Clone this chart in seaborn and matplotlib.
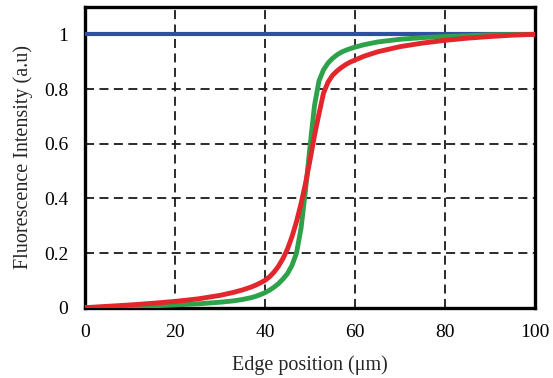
import matplotlib
matplotlib.use("Agg")
import matplotlib.pyplot as plt
import seaborn as sns
import pandas as pd

# Edge profiles: normalised fluorescence intensity across the edge
reference_x = [0, 100]
reference_y = [1.0, 1.0]

green_x = [0, 5, 10, 15, 20, 25, 30, 33, 35, 37, 38, 39, 40, 41, 42, 43, 44,
           45, 46, 47, 48, 49, 50, 51, 52, 53, 54, 55, 56, 57, 58, 59, 60,
           62, 65, 70, 75, 80, 85, 90, 100]
green_y = [0.0, 0.002, 0.004, 0.007, 0.01, 0.014, 0.02, 0.025, 0.03, 0.037,
           0.042, 0.048, 0.055, 0.064, 0.075, 0.088, 0.105, 0.125, 0.155,
           0.20, 0.29, 0.43, 0.59, 0.74, 0.83, 0.87, 0.895, 0.912, 0.925,
           0.935, 0.942, 0.948, 0.953, 0.962, 0.972, 0.982, 0.988, 0.992,
           0.995, 0.998, 1.0]

red_x = [0, 5, 10, 15, 20, 25, 30, 33, 35, 37, 38, 39, 40, 41, 42, 43, 44,
         45, 46, 47, 48, 49, 50, 51, 52, 53, 54, 55, 56, 57, 58, 59, 60, 62,
         65, 70, 75, 80, 85, 90, 95, 100]
red_y = [0.0, 0.005, 0.01, 0.016, 0.023, 0.032, 0.045, 0.056, 0.065, 0.076,
         0.083, 0.091, 0.10, 0.113, 0.13, 0.152, 0.18, 0.215, 0.26, 0.315,
         0.38, 0.455, 0.54, 0.63, 0.71, 0.785, 0.825, 0.85, 0.866, 0.879,
         0.89, 0.899, 0.906, 0.92, 0.936, 0.955, 0.968, 0.978, 0.986, 0.992,
         0.997, 1.0]

x_ticks = [0, 20, 40, 60, 80, 100]
y_ticks = [0, 0.2, 0.4, 0.6, 0.8, 1.0]
y_tick_labels = ["0", "0.2", "0.4", "0.6", "0.8", "1"]

sns.set_style("white")
plt.rcParams["font.family"] = ["Liberation Serif", "DejaVu Serif"]

fig = plt.figure(figsize=(5.53, 3.78), dpi=100)
ax = fig.add_axes([0.1537, 0.186, 0.8138, 0.7955])

ref_df = pd.DataFrame({"x": reference_x, "y": reference_y})
green_df = pd.DataFrame({"x": green_x, "y": green_y})
red_df = pd.DataFrame({"x": red_x, "y": red_y})

line_kw = dict(solid_capstyle="round", solid_joinstyle="round")
sns.lineplot(data=ref_df, x="x", y="y", ax=ax, color="#2F4FA0", lw=3.0,
             zorder=3, **line_kw)
sns.lineplot(data=green_df, x="x", y="y", ax=ax, color="#2EA24A", lw=3.5,
             zorder=4, **line_kw)
sns.lineplot(data=red_df, x="x", y="y", ax=ax, color="#E3262B", lw=3.5,
             zorder=5, **line_kw)

ax.set_xlim(0, 100)
ax.set_ylim(0, 1.1)
ax.set_xticks(x_ticks)
ax.set_yticks(y_ticks)
ax.set_yticklabels(y_tick_labels)

ax.grid(True, color="#1a1a1a", linestyle=(0, (5, 3)), linewidth=1.3)
ax.set_axisbelow(True)

for side in ["left", "right", "top", "bottom"]:
    ax.spines[side].set_visible(True)
    ax.spines[side].set_color("black")
    ax.spines[side].set_linewidth(2.4)

ax.tick_params(axis="both", direction="in", length=4, width=1.5,
               labelsize=14, colors="black")
ax.tick_params(axis="x", pad=12)
ax.tick_params(axis="y", pad=12)

ax.set_xlabel("Edge position (\u03bcm)", fontsize=14.5, labelpad=10)
ax.set_ylabel("Fluorescence Intensity (a.u)", fontsize=14.5, labelpad=8)

fig.savefig("out.png", dpi=100)
